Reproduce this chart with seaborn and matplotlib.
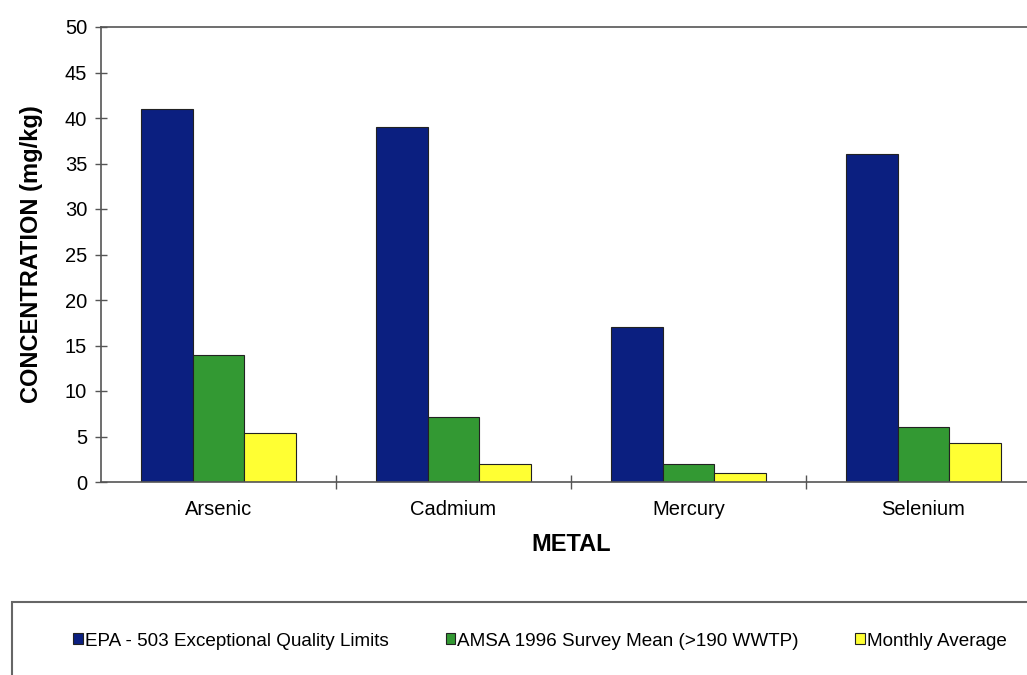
import matplotlib
matplotlib.use("Agg")
import matplotlib.pyplot as plt
from matplotlib.patches import Rectangle
from matplotlib.ticker import FixedLocator
import seaborn as sns
import pandas as pd

# Metal concentrations in mg/kg
metals = ["Arsenic", "Cadmium", "Mercury", "Selenium"]
epa_limits = [41, 39, 17, 36]
amsa_mean = [14, 7.1, 2.0, 6.0]
monthly_avg = [5.4, 2.0, 1.0, 4.3]
series_names = [
    "EPA - 503 Exceptional Quality Limits",
    "AMSA 1996 Survey Mean (>190 WWTP)",
    "Monthly Average",
]
colors = ["#0b1f80", "#339933", "#ffff33"]

df = pd.DataFrame({
    "METAL": metals * 3,
    "value": epa_limits + amsa_mean + monthly_avg,
    "series": [s for s in series_names for _ in metals],
})

sns.set_theme(style="white")
plt.rcParams["font.family"] = ["Liberation Sans", "DejaVu Sans"]
plt.rcParams["text.color"] = "black"
plt.rcParams["axes.labelcolor"] = "black"
plt.rcParams["xtick.color"] = "black"
plt.rcParams["ytick.color"] = "black"

fig = plt.figure(figsize=(10.27, 6.75), dpi=100)
ax = fig.add_axes([101 / 1027, 1 - 482 / 675, 940 / 1027, 455 / 675])

sns.barplot(data=df, x="METAL", y="value", hue="series", order=metals,
            hue_order=series_names, palette=colors, width=0.66, gap=0,
            edgecolor="#222222", linewidth=0.8, saturation=1, ax=ax,
            legend=True)

ax.set_ylim(0, 50)
ax.set_xlim(-0.5, 3.5)
ax.set_yticks(range(0, 51, 5))
ax.set_ylabel("CONCENTRATION (mg/kg)", fontsize=17, fontweight="bold", labelpad=16)
ax.set_xlabel("METAL", fontsize=17, fontweight="bold", labelpad=10)

for side in ["left", "bottom", "top", "right"]:
    ax.spines[side].set_visible(True)
    ax.spines[side].set_color("#555555")
    ax.spines[side].set_linewidth(1.2)

ax.tick_params(axis="y", which="major", direction="inout", length=8, width=1,
               color="#555555", labelcolor="black", labelsize=14.5, pad=6, left=True)
ax.tick_params(axis="x", which="major", length=0, labelsize=14.5,
               labelcolor="black", pad=13)
ax.xaxis.set_minor_locator(FixedLocator([0.5, 1.5, 2.5]))
ax.tick_params(axis="x", which="minor", direction="inout", length=10, width=1,
               color="#555555", bottom=True)

# Legend in a framed strip below the chart
handles, labels = ax.get_legend_handles_labels()
ax.legend_.remove()
fig.add_artist(Rectangle((12 / 1027, -0.2), 1.2, 0.2 + (1 - 602 / 675),
                         transform=fig.transFigure, fill=False,
                         edgecolor="#666666", linewidth=1.5))
fig.legend(handles, labels, loc="center left",
           bbox_to_anchor=(64 / 1027, 1 - 641 / 675),
           bbox_transform=fig.transFigure, ncol=3, frameon=False,
           fontsize=13.6, handlelength=0.5, handleheight=0.5,
           handletextpad=0.12, columnspacing=3.0, borderpad=0)

fig.savefig("out.png", dpi=100)
